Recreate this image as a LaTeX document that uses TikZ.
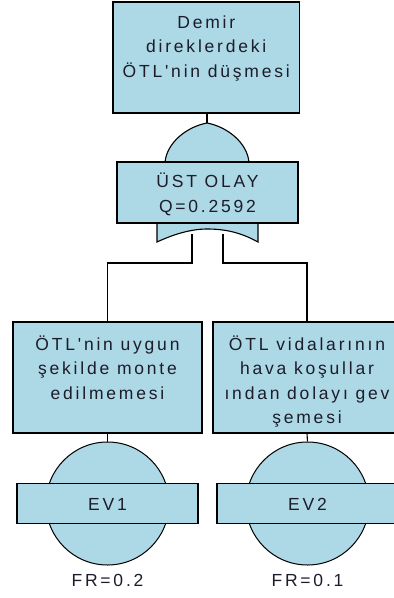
\documentclass[tikz,border=0pt]{standalone}
\usepackage{fontspec}
\setmainfont{Liberation Sans}[LetterSpace=16, Ligatures=TeXOff]
\definecolor{evfill}{HTML}{ADD8E6}
\definecolor{txtcol}{HTML}{1C1C2A}
\begin{document}
\begin{tikzpicture}[x=1pt,y=-1pt,
  box/.style={draw=black, line width=1.1pt, fill=evfill, inner sep=0pt},
  evcircle/.style={circle, draw=black, line width=1pt, fill=evfill, inner sep=0pt, minimum size=123pt},
  lbl/.style={align=center, inner sep=0pt, font=\fontsize{17.5}{24.5}\selectfont, text=txtcol},
  wire/.style={draw=black, line width=1.1pt}]
\useasboundingbox (0,0) rectangle (394,598);

% top event (text anchored at the baseline of its last line)
\node[box, minimum width=186.5pt, minimum height=111pt] (top) at (206.25,57.5) {};
\node[lbl, anchor=base] (toptext) at (206.25,77) {Demir\\direklerdeki\\ÖTL'nin düşmesi};

% intermediate events
\node[box, minimum width=189pt, minimum height=111pt] (left) at (107.5,377.5) {};
\node[lbl, anchor=base] (lefttext) at (107.5,399) {ÖTL'nin uygun\\şekilde monte\\edilmemesi};
\node[box, minimum width=188pt, minimum height=111pt] (right) at (307,377.5) {};
\node[lbl, anchor=base] (righttext) at (307,423.5) {ÖTL vidalarının\\hava koşullar\\ından dolayı gev\\şemesi};

% basic events
\node[evcircle] (c1) at (107.5,503.5) {};
\node[box, minimum width=181pt, minimum height=40pt] (ev1) at (107.5,503.3) {};
\node[lbl, anchor=base] (ev1text) at (107.5,510) {EV1};
\node[lbl, anchor=base] (fr1) at (107.5,586) {FR=0.2};
\node[evcircle] (c2) at (307.5,503.5) {};
\node[box, minimum width=181pt, minimum height=40pt] (ev2) at (307.5,503.3) {};
\node[lbl, anchor=base] (ev2text) at (307.5,510) {EV2};
\node[lbl, anchor=base] (fr2) at (307.5,586) {FR=0.1};

% gate anchor points
\coordinate (gtop) at (207,123);
\coordinate (gL) at (192,234);
\coordinate (gR) at (223,234);
\coordinate (bus) at (0,263);

% connectors
\draw[wire] (top.south -| gtop) -- (gtop);
\draw[wire] (gL) |- (left.north |- bus) -- (left.north);
\draw[wire] (gR) |- (right.north |- bus) -- (right.north);
\draw[wire] (left.south) -- (c1.north);
\draw[wire] (right.south) -- (c2.north);

% OR gate
\draw[wire, fill=evfill] (157,242) -- (157,195) -- (165,162)
  .. controls (167,143) and (186,127) .. (gtop)
  .. controls (228,127) and (247,143) .. (249,162)
  -- (258,195) -- (258,242)
  .. controls (240,232) and (224,229) .. (207,229)
  .. controls (190,229) and (172,235) .. cycle;
\node[box, minimum width=181pt, minimum height=61pt] (ust) at (207.5,192.5) {};
\node[lbl, anchor=base] (usttext) at (207.5,212) {ÜST OLAY\\Q=0.2592};
\end{tikzpicture}
\end{document}
